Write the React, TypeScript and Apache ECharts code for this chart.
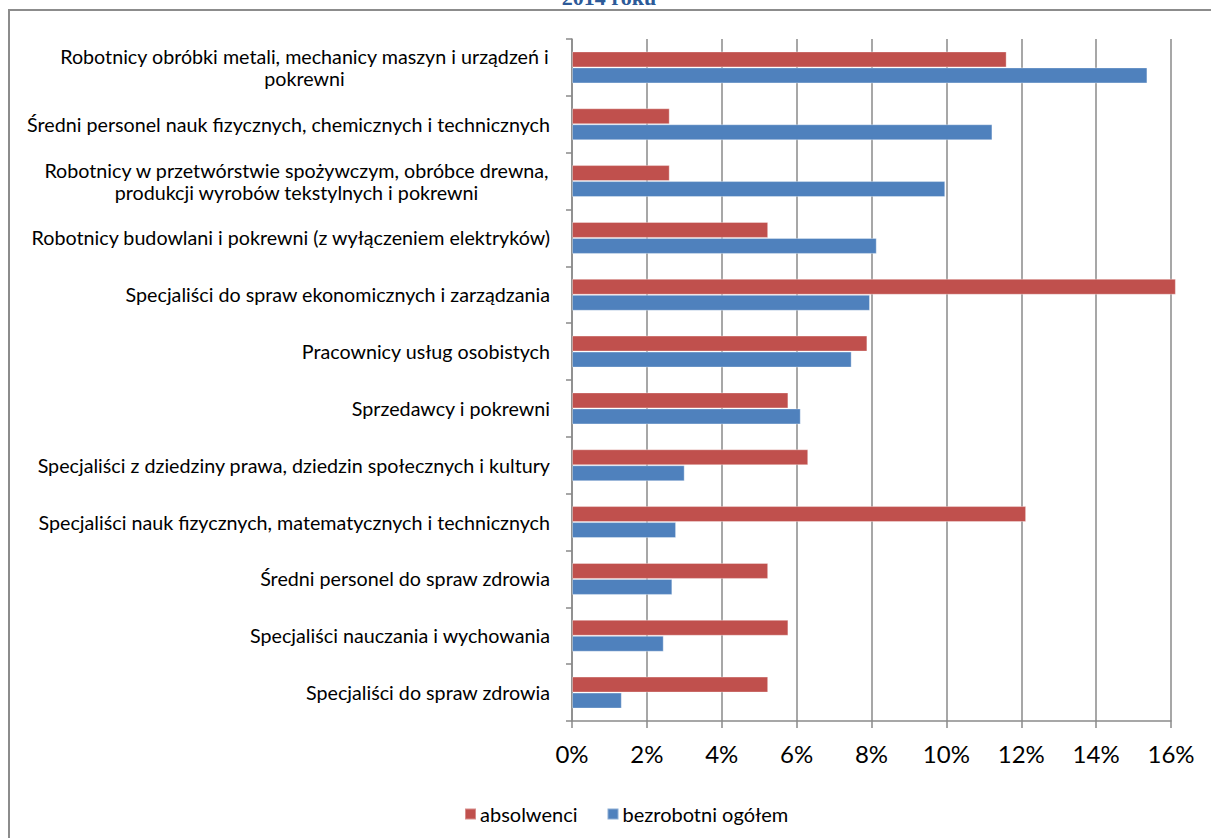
import React, { useEffect, useRef } from "react";
import * as echarts from "echarts";

const categories = [
  "Robotnicy obróbki metali, mechanicy maszyn i urządzeń i\npokrewni",
  "Średni personel nauk fizycznych, chemicznych i technicznych",
  "Robotnicy w przetwórstwie spożywczym, obróbce drewna,\nprodukcji wyrobów tekstylnych i pokrewni",
  "Robotnicy budowlani i pokrewni (z wyłączeniem elektryków)",
  "Specjaliści do spraw ekonomicznych i zarządzania",
  "Pracownicy usług osobistych",
  "Sprzedawcy i pokrewni",
  "Specjaliści z dziedziny prawa, dziedzin społecznych i kultury",
  "Specjaliści nauk fizycznych, matematycznych i technicznych",
  "Średni personel do spraw zdrowia",
  "Specjaliści nauczania i wychowania",
  "Specjaliści do spraw zdrowia",
];

const absolwenci = [11.61, 2.61, 2.61, 5.24, 16.13, 7.89, 5.78, 6.31, 12.13, 5.24, 5.78, 5.24];
const bezrobotni = [15.37, 11.23, 9.97, 8.14, 7.96, 7.47, 6.11, 3.01, 2.78, 2.68, 2.45, 1.33];

const seriesNames = ["absolwenci", "bezrobotni ogółem"];
const xMin = 0;
const xMax = 16;
const xStep = 2;
const titleText = "2014 roku";

export default function App() {
  const ref = useRef<HTMLDivElement>(null);

  useEffect(() => {
    const chart = echarts.init(ref.current!, null, { renderer: "svg" });
    const labelFont = "Lato";
    const labelSize = 19.7;
    const canvas = document.createElement("canvas");
    const ctx = canvas.getContext("2d")!;
    ctx.font = `${labelSize}px ${labelFont}`;
    const rich: any = {};
    categories.forEach((c, i) => {
      if (c.includes("\n")) {
        const w = Math.max(...c.split("\n").map((l) => ctx.measureText(l).width));
        rich["m" + i] = {
          width: Math.ceil(w) + 1,
          align: "center",
          fontSize: labelSize,
          fontFamily: labelFont,
          color: "#000",
          lineHeight: 22,
        };
      }
    });

    const gridColor = "#8a8a8a";

    chart.setOption({
      animation: false,
      backgroundColor: "#fff",
      graphic: [
        {
          type: "rect",
          shape: { x: 9, y: 10, width: 1300, height: 900 },
          style: { fill: "none", stroke: "#8c8c8c", lineWidth: 2 },
          silent: true,
        },
        {
          type: "text",
          x: 609,
          y: 8,
          style: {
            text: titleText,
            fontFamily: "'Liberation Serif', serif",
            fontWeight: "bold",
            fontSize: 22,
            fill: "#2d5a98",
            align: "center",
            verticalAlign: "bottom",
          },
        },
      ],
      legend: {
        left: 459,
        top: 799,
        itemWidth: 11,
        itemHeight: 11,
        itemGap: 29,
        icon: "rect",
        textStyle: { fontFamily: labelFont, fontSize: 20, color: "#000", padding: [0, 0, 0, -1] },
        data: seriesNames,
      },
      grid: { left: 572, top: 39, width: 599, height: 682 },
      xAxis: {
        type: "value",
        min: xMin,
        max: xMax,
        interval: xStep,
        axisLine: { show: true, lineStyle: { color: gridColor, width: 1.5 } },
        axisTick: { show: true, length: 7, lineStyle: { color: gridColor, width: 1.5 } },
        splitLine: { show: true, lineStyle: { color: gridColor, width: 1.5 } },
        axisLabel: {
          formatter: (v: number) => `${v}%`,
          fontFamily: labelFont,
          fontSize: 24,
          color: "#000",
          margin: 20,
        },
      },
      yAxis: {
        type: "category",
        inverse: true,
        data: categories,
        axisLine: { show: true, lineStyle: { color: gridColor, width: 1.5 } },
        axisTick: { show: true, length: 6, lineStyle: { color: gridColor, width: 1.5 } },
        axisLabel: {
          margin: 22,
          fontFamily: labelFont,
          fontSize: labelSize,
          color: "#000",
          lineHeight: 22,
          rich,
          formatter: (v: string, i: number) => {
            if (v.includes("\n")) {
              return v
                .split("\n")
                .map((l) => `{m${i}|${l}}`)
                .join("\n");
            }
            return v;
          },
        },
      },
      series: [
        {
          name: seriesNames[0],
          type: "bar",
          data: absolwenci,
          barWidth: 16,
          barGap: "0%",
          clip: false,
          itemStyle: { color: "#c0504d", borderColor: "rgba(255,255,255,0.35)", borderWidth: 1 },
        },
        {
          name: seriesNames[1],
          type: "bar",
          data: bezrobotni,
          barWidth: 16,
          barGap: "0%",
          clip: false,
          itemStyle: { color: "#4f81bd", borderColor: "rgba(255,255,255,0.35)", borderWidth: 1 },
        },
      ],
    });

    return () => chart.dispose();
  }, []);

  return (
    <div
      ref={ref}
      style={{ position: "fixed", left: 0, top: 0, width: 1211, height: 838 }}
    />
  );
}
